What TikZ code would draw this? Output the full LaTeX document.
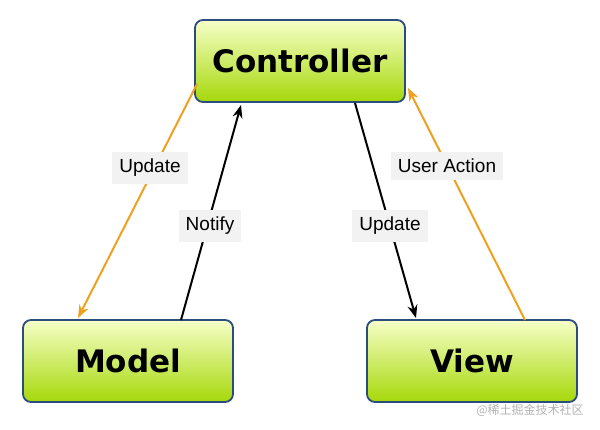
\documentclass[tikz,border=0pt]{standalone}
\usepackage{fontspec}
\setmainfont{Liberation Sans}
\newfontfamily\boxfont{DejaVu Sans}
\newfontfamily\cjk{Noto Sans CJK SC}
\usetikzlibrary{arrows.meta}
\definecolor{bord}{HTML}{2B4C7E}
\definecolor{orng}{HTML}{F0A020}
\definecolor{gtop}{HTML}{F6FFC8}
\definecolor{gbot}{HTML}{A6D80A}
\tikzset{
 box/.style={draw=bord,line width=1.8pt,rounded corners=8pt,top color=gtop,bottom color=gbot,minimum width=210pt,minimum height=82pt,font=\boxfont\bfseries\fontsize{31}{32}\selectfont,inner sep=0pt},
 lbl/.style={fill=gray!10,font=\fontsize{19}{21}\selectfont,inner sep=7pt},
 oarr/.style={draw=orng,line width=2pt,-{Stealth[length=13pt,width=10pt]}},
 barr/.style={draw=black,line width=2pt,-{Stealth[length=13pt,width=10pt]}}
}
\begin{document}
\begin{tikzpicture}[x=1pt,y=-1pt]
\useasboundingbox (0,0) rectangle (600,429);
\node[box] (ctrl) at (300,61) {Controller};
\node[box] (model) at (128,361) {Model};
\node[box] (view) at (472,361) {View};
\coordinate (c1) at (197,84);
\coordinate (m1) at (78,318);
\coordinate (m2) at (181,320);
\coordinate (c2) at (241,105);
\coordinate (c3) at (355,103);
\coordinate (v1) at (416,318);
\coordinate (v2) at (525,320);
\coordinate (c4) at (408,88);
\draw[oarr] (c1) -- (m1);
\draw[barr] (m2) -- (c2);
\draw[barr] (c3) -- (v1);
\draw[oarr] (v2) -- (c4);
\node[lbl] (l1) at (150,168) {Update};
\node[lbl] (l2) at (210,226) {Notify};
\node[lbl] (l3) at (390,226) {Update};
\node[lbl] (l4) at (447,166) {User Action};
\node[text=gray!60,font=\cjk\fontsize{12}{13}\selectfont] (wm) at (530,410) {@稀土掘金技术社区};
\end{tikzpicture}
\end{document}
